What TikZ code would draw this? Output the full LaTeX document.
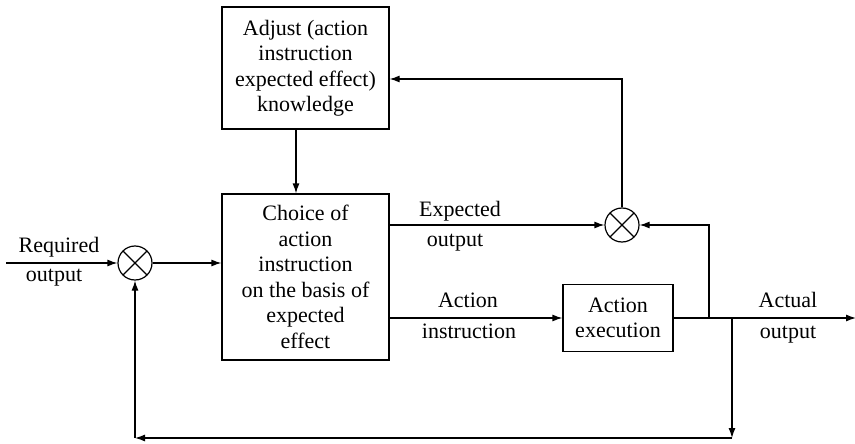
\documentclass[tikz,border=0pt]{standalone}
\usepackage{fontspec}
\setmainfont{Liberation Serif}
\usetikzlibrary{arrows.meta}
\begin{document}
\begin{tikzpicture}[x=1pt,y=-1pt,
 box/.style={draw,line width=1.2pt,align=center,inner sep=0pt,font=\fontsize{22}{25.5}\selectfont},
 sum/.style={draw,circle,line width=1.2pt,minimum size=34pt,inner sep=0pt,
   path picture={\draw[line width=1.2pt] (path picture bounding box.north west)--(path picture bounding box.south east)
     (path picture bounding box.north east)--(path picture bounding box.south west);}},
 lbl/.style={font=\fontsize{22}{25}\selectfont,inner sep=0pt,text height=14pt,text depth=4pt},
 arr/.style={line width=1.2pt,-{Latex[length=10pt,width=7pt]}}]
\useasboundingbox (0,0) rectangle (855,444);
\node[box,minimum width=167pt,minimum height=122pt] (adj) at (305.5,68) {Adjust (action\\instruction\\expected effect)\\knowledge};
\node[box,minimum width=167pt,minimum height=166pt] (choice) at (305.5,277) {Choice of\\action\\instruction\\on the basis of\\expected\\effect};
\node[sum] (s1) at (135,263) {};
\node[sum] (s2) at (622,225) {};
\node[box,minimum width=110pt,minimum height=67pt] (exec) at (618,318) {Action\\execution};
\coordinate (in) at (6,263);
\coordinate (j1) at (709,318);
\coordinate (j2) at (732,318);
\coordinate (out) at (856,318);
\coordinate (b1) at (732,438);
\coordinate (b2) at (135,438);
\coordinate (t1) at (622,79);
\node[lbl] (l1) at (59,247) {Required};
\node[lbl] (l2) at (54,276) {output};
\node[lbl] (l3) at (460,211) {Expected};
\node[lbl] (l4) at (455,241) {output};
\node[lbl] (l5) at (468,302) {Action};
\node[lbl] (l6) at (469,333) {instruction};
\node[lbl] (l7) at (788,302) {Actual};
\node[lbl] (l8) at (788,333) {output};
\draw[arr] (in) -- (s1);
\draw[arr] (s1) -- (s1 -| choice.west);
\draw[arr] ([xshift=-9.5pt]adj.south) -- ([xshift=-9.5pt]choice.north);
\draw[arr] (choice.east |- s2) -- (s2);
\draw[arr] (choice.east |- exec) -- (exec);
\draw[arr] (exec) -- (out);
\draw[arr] (j1) |- (s2);
\draw[arr] (s2) -- (t1) -- (t1 -| adj.east);
\draw[arr] (j2) -- (b1);
\draw[arr] (b1) -- (b2);
\draw[arr] (b2) -- (s1);
\end{tikzpicture}
\end{document}
